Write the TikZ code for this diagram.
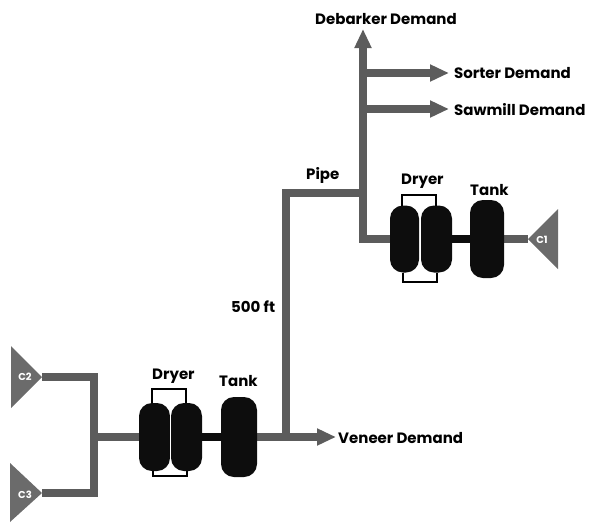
\documentclass[tikz,border=0pt]{standalone}
\usepackage{fontspec}
\setmainfont{Poppins}
\usetikzlibrary{backgrounds,arrows.meta}
\definecolor{pipegray}{gray}{0.36}
\definecolor{trigray}{gray}{0.42}
\definecolor{vesgray}{gray}{0.05}
\tikzset{
  x=1pt,y=-1pt,
  pipe/.style={draw=pipegray,line width=8.5pt},
  blackpipe/.style={draw=vesgray,line width=8.5pt},
  flow/.style={pipe,-{Stealth[inset=0pt,length=19pt,width=16pt]}},
  vessel/.style={draw=none,fill=vesgray,rounded corners=13pt,inner sep=0pt,text width=#1,minimum width=#1},
  jump/.style={draw=black,line width=1.2pt},
  src/.style={fill=trigray,draw=none},
  lbl/.style={font=\bfseries\fontsize{15}{17}\selectfont,text=black,inner sep=0pt,anchor=west},
  srclbl/.style={font=\bfseries\fontsize{10}{11}\selectfont,text=white,inner sep=0pt},
}
\begin{document}
\begin{tikzpicture}
\useasboundingbox (0,0) rectangle (590,523);
% junctions
\coordinate (top) at (363,29);
\coordinate (jS) at (363,73);
\coordinate (jM) at (363,109);
\coordinate (jP) at (363,193);
\coordinate (elbow1) at (363,239);
\coordinate (elbowP) at (286,193);
\coordinate (jV) at (286,437);
\coordinate (sorterEnd) at (449,73);
\coordinate (sawEnd) at (449,109);
\coordinate (venEnd) at (336,437);
\coordinate (tipOne) at (528,239);
\coordinate (tipTwo) at (42,377);
\coordinate (tipThree) at (42,493);
\coordinate (cTwo) at (94,377);
\coordinate (cThree) at (94,493);
\coordinate (jL) at (94,437);
% vessels, upper
\node[vessel=29pt,minimum height=67pt] (d1a) at (404.5,239) {};
\node[vessel=31pt,minimum height=67pt] (d1b) at (436.5,239) {};
\node[vessel=34pt,minimum height=78pt] (t1) at (487,239) {};
% vessels, lower
\node[vessel=31pt,minimum height=68pt] (d2a) at (154.5,437) {};
\node[vessel=31pt,minimum height=68pt] (d2b) at (186.5,437) {};
\node[vessel=36pt,minimum height=80pt] (t2) at (239,437) {};
\begin{scope}[on background layer]
  \draw[pipe,line cap=rect] (elbow1) -- (d1a.center);
  \draw[pipe] (tipOne) -- (t1.center);
  \draw[blackpipe] (d1b.center) -- (t1.center);
  \draw[pipe] (elbow1) -- (jS);
  \draw[pipe] (jP) -- (elbowP) -- (jV);
  \draw[pipe] (tipTwo) -- (cTwo) -- (cThree) -- (tipThree);
  \draw[pipe] (jL) -- (d2a.center);
  \draw[blackpipe] (d2b.center) -- (t2.center);
  \draw[pipe] (t2.center) -- (jV);
\end{scope}
\draw[flow] (jV) -- (venEnd);
\draw[flow] (jS) -- (sorterEnd);
\draw[flow] (jM) -- (sawEnd);
\draw[flow] (jS) -- (top);
% dryer brackets
\draw[jump] (402,206) |- (436,195) -- (436,206);
\draw[jump] (403,273) |- (437,282) -- (437,273);
\draw[jump] (152,403) |- (186,389) -- (186,403);
\draw[jump] (153,471) |- (187,476) -- (187,471);
\draw[white,line width=1pt] (420,212) -- (420,268);
\draw[white,line width=1pt] (170.5,408) -- (170.5,466);
% sources
\fill[src] (tipOne) -- (558,209) -- (558,269) -- cycle;
\fill[src] (tipTwo) -- (11,346) -- (11,408) -- cycle;
\fill[src] (tipThree) -- (10,463) -- (10,522) -- cycle;
\node[srclbl] (c1) at (542,240) {C1};
\node[srclbl] (c2) at (25,377) {C2};
\node[srclbl] (c3) at (25,495) {C3};
% labels
\node[lbl] (debarker) at (315,19) {Debarker Demand};
\node[lbl] (sorter) at (454,73) {Sorter Demand};
\node[lbl] (sawmill) at (454,110) {Sawmill Demand};
\node[lbl] (pipelbl) at (306,175) {Pipe};
\node[lbl] (dry1) at (401,181) {Dryer};
\node[lbl] (tank1) at (470,190) {Tank};
\node[lbl] (ft) at (231,307) {500 ft};
\node[lbl] (dry2) at (152,376) {Dryer};
\node[lbl] (tank2) at (219,381) {Tank};
\node[lbl] (veneer) at (338,438) {Veneer Demand};
\end{tikzpicture}
\end{document}
